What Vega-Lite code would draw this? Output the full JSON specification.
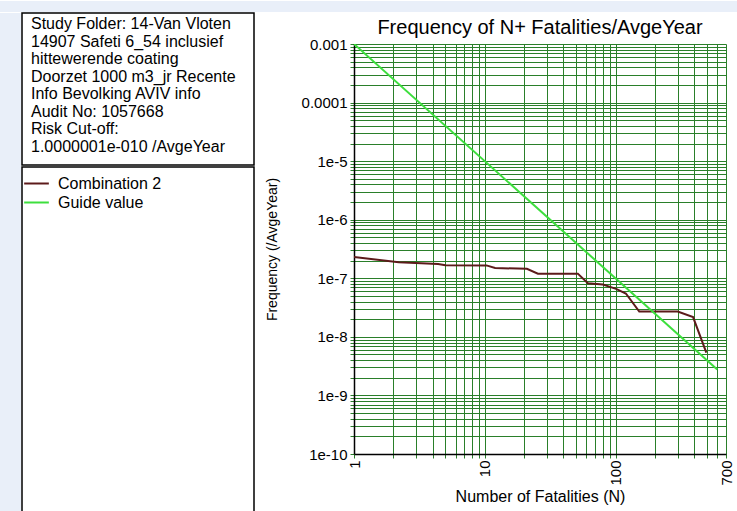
{
  "$schema": "https://vega.github.io/schema/vega-lite/v6.json",
  "background": "white",
  "padding": 0,
  "spacing": 0,
  "config": {
    "font": "Liberation Sans",
    "view": {"stroke": null}
  },
  "vconcat": [
    {
      "width": 737,
      "height": 11,
      "data": {"values": [{}]},
      "mark": {"type": "text", "text": ""},
      "view": {"fill": "#e9eff9", "stroke": null}
    },
    {
      "spacing": 10,
      "resolve": {"scale": {"color": "independent"}, "legend": {"color": "independent"}},
      "hconcat": [
        {
          "spacing": 0,
          "resolve": {"scale": {"color": "independent"}, "legend": {"color": "independent"}},
          "hconcat": [
            {
              "width": 21,
              "height": 500,
              "data": {"values": [{}]},
              "mark": {"type": "text", "text": ""},
              "view": {"fill": "#e9eff9", "stroke": null}
            },
            {
              "spacing": 0,
              "resolve": {"scale": {"color": "independent"}, "legend": {"color": "independent"}},
              "vconcat": [
                {
                  "width": 232,
                  "height": 152,
                  "view": {"fill": "white", "stroke": "#000000", "strokeWidth": 1.5},
                  "data": {
                    "values": [
                      {"i": 1, "line": "Study Folder: 14-Van Vloten"},
                      {"i": 2, "line": "14907 Safeti 6_54 inclusief"},
                      {"i": 3, "line": "hittewerende coating"},
                      {"i": 4, "line": "Doorzet 1000 m3_jr Recente"},
                      {"i": 5, "line": "Info Bevolking AVIV info"},
                      {"i": 6, "line": "Audit No: 1057668"},
                      {"i": 7, "line": "Risk Cut-off:"},
                      {"i": 8, "line": "1.0000001e-010 /AvgeYear"}
                    ]
                  },
                  "mark": {"type": "text", "align": "left", "baseline": "middle", "dx": 9, "dy": -3.5, "fontSize": 16, "color": "#000000"},
                  "encoding": {
                    "y": {"field": "i", "type": "ordinal", "axis": null, "scale": {"type": "point", "padding": 0.83}},
                    "x": {"datum": 0, "type": "quantitative", "scale": {"domain": [0, 1]}, "axis": null},
                    "text": {"field": "line"}
                  }
                },
                {
                  "width": 232,
                  "height": 348,
                  "view": {"fill": "white", "stroke": "#000000", "strokeWidth": 1.5},
                  "data": {"values": [{"series": "Combination 2"}, {"series": "Guide value"}]},
                  "mark": {"type": "point", "opacity": 0, "filled": false},
                  "encoding": {
                    "color": {
                      "field": "series",
                      "type": "nominal",
                      "scale": {"domain": ["Combination 2", "Guide value"], "range": ["#5c1a1a", "#3ddf3d"]},
                      "legend": {
                        "orient": "none",
                        "legendX": 4,
                        "legendY": 6,
                        "title": null,
                        "padding": 0,
                        "symbolType": "M-1.3,0L1.3,0",
                        "symbolSize": 361,
                        "symbolStrokeWidth": 2,
                        "symbolOpacity": 1,
                        "symbolFillColor": "transparent",
                        "labelFontSize": 16,
                        "labelOffset": 11,
                        "labelColor": "#000000",
                        "rowPadding": 0
                      }
                    }
                  }
                }
              ]
            }
          ]
        },
        {
          "spacing": 0,
          "bounds": "flush",
          "vconcat": [
            {
              "width": 372,
              "height": 31,
              "data": {"values": [{"t": "Frequency of N+ Fatalities/AvgeYear"}]},
              "mark": {"type": "text", "fontSize": 20, "baseline": "middle", "dy": -1, "color": "#000000"},
              "encoding": {"text": {"field": "t"}}
            },
            {
              "width": 372,
              "height": 410,
              "data": {
                "values": [
                  {"series": "Combination 2", "N": 1, "freq": 2.32e-7},
                  {"series": "Combination 2", "N": 2.2, "freq": 1.88e-7},
                  {"series": "Combination 2", "N": 4.4, "freq": 1.76e-7},
                  {"series": "Combination 2", "N": 5, "freq": 1.67e-7},
                  {"series": "Combination 2", "N": 10.3, "freq": 1.66e-7},
                  {"series": "Combination 2", "N": 12, "freq": 1.5e-7},
                  {"series": "Combination 2", "N": 21, "freq": 1.45e-7},
                  {"series": "Combination 2", "N": 25.5, "freq": 1.2e-7},
                  {"series": "Combination 2", "N": 51.5, "freq": 1.2e-7},
                  {"series": "Combination 2", "N": 61.5, "freq": 8.2e-8},
                  {"series": "Combination 2", "N": 80, "freq": 7.8e-8},
                  {"series": "Combination 2", "N": 101, "freq": 6.6e-8},
                  {"series": "Combination 2", "N": 120, "freq": 5.5e-8},
                  {"series": "Combination 2", "N": 152, "freq": 2.7e-8},
                  {"series": "Combination 2", "N": 299, "freq": 2.7e-8},
                  {"series": "Combination 2", "N": 392, "freq": 2.17e-8},
                  {"series": "Combination 2", "N": 495, "freq": 5.4e-9},
                  {"series": "Guide value", "N": 1, "freq": 0.001},
                  {"series": "Guide value", "N": 600, "freq": 2.78e-9}
                ]
              },
              "mark": {"type": "line", "strokeWidth": 2, "clip": true},
              "encoding": {
                "x": {
                  "field": "N",
                  "type": "quantitative",
                  "scale": {"type": "log", "domain": [1, 700], "nice": false},
                  "axis": {
                    "title": "Number of Fatalities (N)",
                    "values": [1, 2, 3, 4, 5, 6, 7, 8, 9, 10, 20, 30, 40, 50, 60, 70, 80, 90, 100, 200, 300, 400, 500, 600, 700],
                    "labelExpr": "(datum.value == 1 || datum.value == 10 || datum.value == 100 || datum.value == 700) ? format(datum.value, 'd') : ''",
                    "labelAngle": 270,
                    "labelOverlap": false,
                    "labelFlush": false,
                    "labelFontSize": 15,
                    "labelColor": "#000000",
                    "labelPadding": 2,
                    "tickSize": 4,
                    "tickColor": "#2a7f2a",
                    "domainColor": "#000000",
                    "domainWidth": 1.5,
                    "grid": true,
                    "gridColor": "#2a7f2a",
                    "gridOpacity": 1,
                    "gridWidth": 1,
                    "titleFontSize": 16,
                    "titleFontWeight": "normal",
                    "titleColor": "#000000",
                    "titlePadding": 3
                  }
                },
                "y": {
                  "field": "freq",
                  "type": "quantitative",
                  "scale": {"type": "log", "domain": [1e-10, 0.001], "nice": false},
                  "axis": {
                    "title": "Frequency (/AvgeYear)",
                    "values": [1e-10, 2e-10, 3e-10, 4e-10, 5e-10, 6e-10, 7e-10, 8e-10, 9e-10, 1e-9, 2e-9, 3e-9, 4e-9, 5e-9, 6e-9, 7e-9, 8e-9, 9e-9, 1e-8, 2e-8, 3e-8, 4e-8, 5e-8, 6e-8, 7e-8, 8e-8, 9e-8, 1e-7, 2e-7, 3e-7, 4e-7, 5e-7, 6e-7, 7e-7, 8e-7, 9e-7, 1e-6, 2e-6, 3e-6, 4e-6, 5e-6, 6e-6, 7e-6, 8e-6, 9e-6, 1e-5, 2e-5, 3e-5, 4e-5, 5e-5, 6e-5, 7e-5, 8e-5, 9e-5, 0.0001, 0.0002, 0.0003, 0.0004, 0.0005, 0.0006, 0.0007, 0.0008, 0.0009, 0.001],
                    "labelExpr": "abs(log(datum.value)/LN10 - round(log(datum.value)/LN10)) < 0.000001 ? (datum.value >= 0.0001 ? format(datum.value, '~g') : '1e' + round(log(datum.value)/LN10)) : ''",
                    "labelOverlap": false,
                    "labelFlush": false,
                    "labelFontSize": 15,
                    "labelColor": "#000000",
                    "labelPadding": 3,
                    "tickSize": 4,
                    "tickColor": "#2a7f2a",
                    "domainColor": "#000000",
                    "domainWidth": 1.5,
                    "grid": true,
                    "gridColor": "#2a7f2a",
                    "gridOpacity": 1,
                    "gridWidth": 1,
                    "titleFontSize": 14,
                    "titleFontWeight": "normal",
                    "titleColor": "#000000",
                    "titlePadding": 22
                  }
                },
                "color": {
                  "field": "series",
                  "type": "nominal",
                  "scale": {"domain": ["Combination 2", "Guide value"], "range": ["#5c1a1a", "#3ddf3d"]},
                  "legend": null
                }
              }
            }
          ]
        }
      ]
    }
  ]
}
